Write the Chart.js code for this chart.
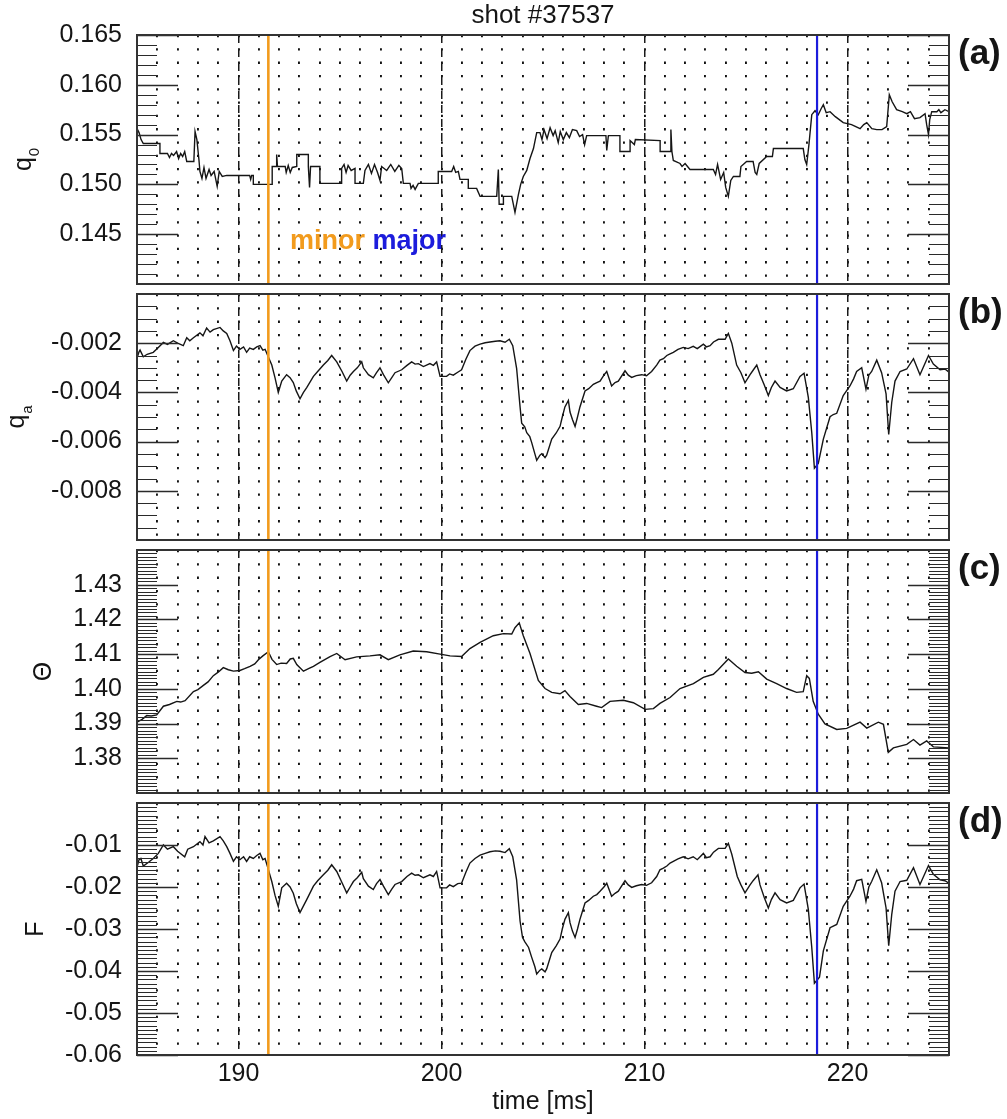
<!DOCTYPE html>
<html>
<head>
<meta charset="utf-8">
<title>shot #37537</title>
<script src="https://cdn.jsdelivr.net/npm/chart.js@4.4.1/dist/chart.umd.min.js"></script>
<style>
  body { margin: 0; background: #fff; }
  #page { position: relative; width: 1007px; height: 1119px; overflow: hidden; background: #fff; }
  #page canvas { position: absolute; left: 0; }
</style>
</head>
<body>
<div id="page">
  <canvas id="panelA" width="1007" height="314" style="top:0px"></canvas>
  <canvas id="panelB" width="1007" height="306" style="top:264px"></canvas>
  <canvas id="panelC" width="1007" height="303" style="top:520px"></canvas>
  <canvas id="panelD" width="1007" height="346" style="top:773px"></canvas>
</div>
<script>
// time axis
var timeRange = [185, 225];
var xTickLabels = [190, 200, 210, 220];
var minorTime = 191.47;   // orange marker
var majorTime = 218.5;    // blue marker
var noteTime = 192.54;    // where the "minor major" text starts
var noteLevel = 0.1435;

// (a) q0
var q0Range = [0.140, 0.165];
var q0Ticks = [0.145, 0.150, 0.155, 0.160, 0.165];
var q0Time = [
  185.00,185.10,185.20,185.31,186.13,186.13,186.50,186.60,186.70,186.80,
  186.95,187.05,187.15,187.25,187.35,187.45,187.80,187.86,187.95,188.05,
  188.10,188.20,188.30,188.40,188.55,188.65,188.80,188.95,189.05,189.20,
  189.42,190.55,190.60,190.65,190.73,190.73,191.66,191.66,191.85,191.88,
  191.92,192.30,192.35,192.45,192.55,192.65,192.87,192.87,193.44,193.44,
  193.50,193.55,194.01,194.01,195.08,195.08,195.20,195.30,195.40,195.55,
  195.74,195.74,196.15,196.23,196.40,196.55,196.70,196.85,196.97,197.05,
  197.30,197.50,197.70,197.90,198.04,198.12,198.45,198.50,198.60,198.70,
  198.86,199.84,199.84,200.50,200.60,200.70,200.83,200.91,201.32,201.32,
  201.73,201.90,202.72,202.80,202.84,203.05,203.05,203.46,203.62,203.79,
  203.90,204.03,204.20,204.36,204.53,204.69,204.85,204.95,205.05,205.20,
  205.35,205.50,205.60,205.75,205.85,206.00,206.15,206.30,206.45,206.66,
  206.80,206.95,207.05,207.15,208.10,208.14,208.22,208.79,208.79,209.29,
  209.29,209.50,209.55,210.77,210.77,211.26,211.30,211.35,211.42,211.75,
  211.85,212.00,212.24,213.39,213.50,213.60,213.75,213.90,214.00,214.13,
  214.25,214.38,214.70,214.75,215.03,215.35,215.45,215.53,215.65,216.02,
  216.30,216.35,217.82,217.90,217.99,218.10,218.24,218.40,218.56,218.70,
  218.81,218.95,219.14,219.40,219.79,220.20,220.62,220.80,220.95,221.20,
  221.44,221.70,221.93,222.06,222.20,222.42,222.70,222.92,223.10,223.30,
  223.57,223.82,223.90,223.99,224.05,224.15,224.40,224.50,224.60,224.80,
  225.00];
var q0Vals = [
  0.1556,0.1552,0.1545,0.1541,0.1541,0.1531,0.1531,0.1527,0.1531,0.1529,
  0.1533,0.1526,0.1531,0.1528,0.1533,0.1523,0.1523,0.1553,0.1545,0.1525,
  0.1513,0.1506,0.1517,0.1506,0.1515,0.1509,0.1513,0.1498,0.1513,0.1508,
  0.1509,0.1509,0.1505,0.1509,0.1509,0.1500,0.1500,0.1518,0.1518,0.1530,
  0.1518,0.1518,0.1512,0.1519,0.1512,0.1517,0.1518,0.1530,0.1530,0.1518,
  0.1497,0.1518,0.1518,0.1501,0.1501,0.1516,0.1520,0.1512,0.1519,0.1514,
  0.1516,0.1501,0.1501,0.1514,0.1520,0.1511,0.1520,0.1512,0.1504,0.1518,
  0.1514,0.1520,0.1513,0.1519,0.1516,0.1501,0.1501,0.1496,0.1499,0.1495,
  0.1501,0.1501,0.1513,0.1513,0.1518,0.1512,0.1513,0.1505,0.1505,0.1496,
  0.1496,0.1488,0.1488,0.1515,0.1480,0.1480,0.1488,0.1488,0.1472,0.1490,
  0.1500,0.1508,0.1514,0.1526,0.1536,0.1552,0.1552,0.1545,0.1555,0.1546,
  0.1557,0.1549,0.1554,0.1542,0.1553,0.1545,0.1552,0.1547,0.1555,0.1554,
  0.1548,0.1550,0.1540,0.1549,0.1549,0.1534,0.1549,0.1549,0.1533,0.1533,
  0.1544,0.1540,0.1545,0.1544,0.1533,0.1533,0.1555,0.1533,0.1524,0.1521,
  0.1518,0.1521,0.1515,0.1515,0.1510,0.1520,0.1505,0.1512,0.1497,0.1488,
  0.1504,0.1508,0.1508,0.1518,0.1523,0.1523,0.1512,0.1510,0.1521,0.1528,
  0.1528,0.1536,0.1536,0.1525,0.1520,0.1540,0.1570,0.1574,0.1570,0.1576,
  0.1580,0.1572,0.1573,0.1568,0.1562,0.1560,0.1556,0.1560,0.1562,0.1556,
  0.1555,0.1555,0.1558,0.1590,0.1583,0.1575,0.1573,0.1571,0.1573,0.1566,
  0.1567,0.1571,0.1560,0.1550,0.1565,0.1573,0.1573,0.1575,0.1572,0.1575,
  0.1573];

// (b) qa
var qaRange = [-0.010, 0];
var qaTicks = [-0.002, -0.004, -0.006, -0.008];
var qaTime = [
  184.99,185.10,185.15,185.31,185.50,185.80,186.00,186.30,186.50,186.79,
  187.00,187.28,187.45,187.60,187.78,188.10,188.25,188.43,188.60,188.76,
  189.09,189.25,189.42,189.58,189.75,189.90,190.07,190.25,190.40,190.55,
  190.73,190.90,191.06,191.20,191.31,191.47,191.64,191.80,191.96,192.13,
  192.37,192.54,192.70,192.85,193.03,193.20,193.36,193.69,193.90,194.18,
  194.40,194.59,194.84,195.10,195.33,195.50,195.66,195.85,196.07,196.15,
  196.40,196.64,196.80,196.97,197.14,197.38,197.55,197.71,198.04,198.30,
  198.53,198.70,198.86,199.11,199.43,199.60,199.76,199.93,200.25,200.40,
  200.58,200.80,200.99,201.20,201.40,201.65,201.90,202.15,202.39,202.65,
  202.88,203.13,203.34,203.51,203.70,203.87,203.95,204.10,204.20,204.35,
  204.44,204.60,204.69,204.85,204.94,205.10,205.18,205.43,205.65,205.84,
  205.95,206.08,206.25,206.33,206.45,206.58,206.70,206.82,207.07,207.25,
  207.48,207.65,207.81,208.00,208.14,208.38,208.55,208.71,209.04,209.20,
  209.37,209.60,209.86,210.10,210.35,210.60,210.76,210.93,211.10,211.26,
  211.42,211.65,211.91,212.15,212.40,212.60,212.90,213.05,213.23,213.40,
  213.64,213.97,214.13,214.30,214.54,214.75,214.95,215.20,215.35,215.53,
  215.69,215.90,216.10,216.25,216.43,216.68,217.00,217.33,217.66,217.86,
  218.07,218.24,218.37,218.56,218.81,219.14,219.30,219.47,219.79,220.12,
  220.30,220.45,220.70,220.91,221.05,221.19,221.44,221.68,221.90,222.03,
  222.18,222.34,222.59,222.92,223.25,223.57,223.99,224.23,224.56,224.80,
  225.00];
var qaVals = [
  -0.00263,-0.00235,-0.00228,-0.00255,-0.00245,-0.00237,-0.00222,-0.00197,-0.00205,-0.00190,
  -0.00200,-0.00210,-0.00178,-0.00190,-0.00178,-0.00158,-0.00170,-0.00138,-0.00155,-0.00145,
  -0.00136,-0.00150,-0.00160,-0.00190,-0.00230,-0.00212,-0.00225,-0.00215,-0.00237,-0.00220,
  -0.00225,-0.00215,-0.00210,-0.00228,-0.00225,-0.00256,-0.00289,-0.00341,-0.00400,-0.00354,
  -0.00328,-0.00340,-0.00360,-0.00395,-0.00426,-0.00400,-0.00381,-0.00335,-0.00315,-0.00289,
  -0.00270,-0.00250,-0.00276,-0.00315,-0.00354,-0.00330,-0.00315,-0.00300,-0.00276,-0.00300,
  -0.00328,-0.00341,-0.00320,-0.00300,-0.00328,-0.00361,-0.00340,-0.00320,-0.00308,-0.00290,
  -0.00276,-0.00285,-0.00283,-0.00295,-0.00283,-0.00290,-0.00276,-0.00335,-0.00335,-0.00325,
  -0.00330,-0.00318,-0.00308,-0.00265,-0.00230,-0.00212,-0.00204,-0.00198,-0.00195,-0.00192,
  -0.00190,-0.00196,-0.00184,-0.00210,-0.00302,-0.00459,-0.00525,-0.00540,-0.00564,-0.00580,
  -0.00603,-0.00650,-0.00676,-0.00655,-0.00649,-0.00665,-0.00655,-0.00590,-0.00565,-0.00538,
  -0.00500,-0.00459,-0.00433,-0.00480,-0.00510,-0.00538,-0.00500,-0.00459,-0.00394,-0.00385,
  -0.00367,-0.00360,-0.00354,-0.00330,-0.00315,-0.00374,-0.00360,-0.00354,-0.00312,-0.00330,
  -0.00339,-0.00332,-0.00328,-0.00332,-0.00315,-0.00289,-0.00269,-0.00263,-0.00250,-0.00243,
  -0.00237,-0.00225,-0.00217,-0.00222,-0.00213,-0.00222,-0.00204,-0.00215,-0.00210,-0.00195,
  -0.00184,-0.00184,-0.00160,-0.00200,-0.00289,-0.00320,-0.00361,-0.00328,-0.00310,-0.00289,
  -0.00328,-0.00370,-0.00413,-0.00380,-0.00354,-0.00380,-0.00394,-0.00385,-0.00335,-0.00322,
  -0.00420,-0.00564,-0.00708,-0.00689,-0.00590,-0.00499,-0.00490,-0.00485,-0.00413,-0.00374,
  -0.00345,-0.00315,-0.00300,-0.00387,-0.00330,-0.00315,-0.00269,-0.00320,-0.00406,-0.00571,
  -0.00440,-0.00354,-0.00315,-0.00305,-0.00263,-0.00328,-0.00250,-0.00285,-0.00308,-0.00305,
  -0.00318];

// (c) Theta
var thetaRange = [1.370, 1.440];
var thetaTicks = [1.38, 1.39, 1.40, 1.41, 1.42, 1.43];
var thetaTime = [
  185.00,185.25,185.48,185.70,185.97,186.30,186.60,186.96,187.15,187.37,
  187.78,188.00,188.27,188.50,188.76,189.00,189.25,189.50,189.75,190.07,
  190.30,190.57,190.80,190.98,191.20,191.47,191.65,191.88,192.10,192.37,
  192.55,192.70,192.87,193.20,193.45,193.69,194.01,194.51,194.84,195.25,
  195.82,196.48,196.97,197.38,197.95,198.61,199.27,199.93,200.42,200.99,
  201.40,201.90,202.55,203.05,203.46,203.62,203.83,204.03,204.36,204.77,
  205.10,205.43,205.84,206.08,206.33,206.74,207.15,207.64,207.89,208.30,
  208.96,209.45,210.03,210.44,210.76,211.26,211.75,212.41,212.90,213.39,
  213.64,214.13,214.54,214.95,215.28,215.61,216.02,216.51,217.00,217.49,
  217.82,217.99,218.12,218.31,218.56,218.89,219.47,219.96,220.62,220.95,
  221.52,221.77,222.01,222.26,222.92,223.25,223.57,223.90,224.23,225.00];
var thetaVals = [
  1.3904,1.3912,1.3923,1.3922,1.3925,1.3950,1.3955,1.3964,1.3962,1.3966,
  1.3992,1.3998,1.4010,1.4020,1.4038,1.4048,1.4061,1.4055,1.4051,1.4053,
  1.4058,1.4065,1.4072,1.4084,1.4095,1.4107,1.4085,1.4070,1.4074,1.4073,
  1.4086,1.4088,1.4070,1.4051,1.4058,1.4065,1.4076,1.4093,1.4102,1.4084,
  1.4092,1.4095,1.4098,1.4084,1.4098,1.4109,1.4107,1.4100,1.4095,1.4093,
  1.4116,1.4134,1.4153,1.4159,1.4158,1.4176,1.4190,1.4153,1.4102,1.4024,
  1.4001,1.3990,1.3986,1.3995,1.3978,1.3955,1.3958,1.3950,1.3946,1.3964,
  1.3967,1.3960,1.3941,1.3943,1.3958,1.3975,1.4001,1.4015,1.4033,1.4042,
  1.4056,1.4086,1.4065,1.4047,1.4045,1.4049,1.4028,1.4015,1.4001,1.3990,
  1.3992,1.4038,1.4030,1.3964,1.3927,1.3899,1.3883,1.3886,1.3904,1.3887,
  1.3904,1.3898,1.3817,1.3830,1.3840,1.3854,1.3838,1.3850,1.3833,1.3830];

// (d) F
var fRange = [-0.060, 0];
var fTicks = [-0.01, -0.02, -0.03, -0.04, -0.05, -0.06];
var fTime = [
  184.99,185.10,185.19,185.31,185.60,185.80,186.05,186.30,186.50,186.79,
  187.00,187.35,187.50,187.78,188.10,188.25,188.35,188.55,188.76,189.09,
  189.25,189.42,189.58,189.75,189.90,190.07,190.25,190.40,190.55,190.73,
  190.90,191.06,191.20,191.31,191.45,191.64,191.80,191.96,192.13,192.37,
  192.54,192.70,192.85,193.03,193.20,193.36,193.69,193.90,194.18,194.40,
  194.59,194.84,195.10,195.33,195.50,195.66,195.85,196.07,196.15,196.40,
  196.64,196.80,196.97,197.14,197.38,197.55,197.71,198.04,198.30,198.53,
  198.70,198.86,199.11,199.43,199.60,199.76,199.93,200.25,200.40,200.58,
  200.80,200.99,201.20,201.40,201.65,201.90,202.15,202.39,202.65,202.88,
  203.13,203.34,203.51,203.70,203.87,203.99,204.10,204.29,204.44,204.60,
  204.69,204.85,204.94,205.10,205.18,205.43,205.65,205.84,205.95,206.08,
  206.25,206.33,206.45,206.58,206.70,206.82,207.07,207.25,207.48,207.65,
  207.81,208.00,208.14,208.38,208.55,208.71,209.04,209.20,209.37,209.60,
  209.86,210.10,210.35,210.60,210.76,210.93,211.10,211.26,211.42,211.65,
  211.91,212.15,212.40,212.60,212.90,213.05,213.23,213.40,213.64,213.97,
  214.13,214.30,214.57,214.75,214.95,215.20,215.35,215.59,215.69,215.90,
  216.10,216.25,216.43,216.68,217.00,217.33,217.66,217.86,218.07,218.24,
  218.37,218.62,218.81,219.14,219.30,219.47,219.79,220.12,220.30,220.45,
  220.70,220.91,221.05,221.19,221.44,221.68,221.90,222.03,222.18,222.34,
  222.59,222.92,223.25,223.57,223.99,224.23,224.56,224.80,225.00];
var fVals = [
  -0.0155,-0.0135,-0.0132,-0.0150,-0.0140,-0.0132,-0.0120,-0.0100,-0.0110,-0.0104,
  -0.0115,-0.0128,-0.0110,-0.0104,-0.0092,-0.0100,-0.0080,-0.0095,-0.0090,-0.0080,
  -0.0090,-0.0104,-0.0120,-0.0139,-0.0128,-0.0135,-0.0128,-0.0139,-0.0128,-0.0132,
  -0.0125,-0.0120,-0.0135,-0.0132,-0.0155,-0.0187,-0.0220,-0.0246,-0.0202,-0.0191,
  -0.0200,-0.0215,-0.0240,-0.0261,-0.0245,-0.0230,-0.0198,-0.0185,-0.0171,-0.0160,
  -0.0147,-0.0163,-0.0190,-0.0214,-0.0200,-0.0187,-0.0178,-0.0165,-0.0180,-0.0198,
  -0.0206,-0.0192,-0.0182,-0.0198,-0.0218,-0.0205,-0.0194,-0.0187,-0.0175,-0.0167,
  -0.0172,-0.0171,-0.0178,-0.0171,-0.0175,-0.0163,-0.0202,-0.0202,-0.0195,-0.0199,
  -0.0192,-0.0191,-0.0165,-0.0143,-0.0132,-0.0124,-0.0120,-0.0116,-0.0114,-0.0115,
  -0.0118,-0.0109,-0.0128,-0.0183,-0.0281,-0.0320,-0.0330,-0.0344,-0.0367,-0.0390,
  -0.0407,-0.0398,-0.0395,-0.0402,-0.0395,-0.0356,-0.0340,-0.0324,-0.0300,-0.0277,
  -0.0261,-0.0285,-0.0305,-0.0320,-0.0300,-0.0277,-0.0238,-0.0232,-0.0222,-0.0218,
  -0.0210,-0.0200,-0.0191,-0.0222,-0.0215,-0.0210,-0.0185,-0.0195,-0.0201,-0.0197,
  -0.0194,-0.0196,-0.0190,-0.0175,-0.0159,-0.0155,-0.0150,-0.0143,-0.0139,-0.0133,
  -0.0128,-0.0133,-0.0128,-0.0135,-0.0120,-0.0130,-0.0128,-0.0117,-0.0108,-0.0108,
  -0.0096,-0.0122,-0.0175,-0.0195,-0.0214,-0.0195,-0.0185,-0.0171,-0.0195,-0.0225,
  -0.0250,-0.0230,-0.0214,-0.0230,-0.0238,-0.0232,-0.0202,-0.0193,-0.0253,-0.0344,
  -0.0429,-0.0415,-0.0352,-0.0297,-0.0293,-0.0289,-0.0246,-0.0222,-0.0205,-0.0185,
  -0.0182,-0.0234,-0.0200,-0.0187,-0.0159,-0.0190,-0.0250,-0.0340,-0.0265,-0.0210,
  -0.0187,-0.0184,-0.0154,-0.0194,-0.0149,-0.0170,-0.0183,-0.0185,-0.0191];

var fontFamily = "'Liberation Sans', Arial, Helvetica, sans-serif";
var minorColor = '#f29b1d';
var majorColor = '#1c1cdc';
var inkColor = '#151515';

Chart.defaults.font.family = fontFamily;
Chart.defaults.color = inkColor;

function toPoints(times, vals) {
  return times.map(function (t, i) { return { x: t, y: vals[i] }; });
}

// frame, inward ticks on both sides, rotated axis name, panel letter
function panelDecor(cfg) {
  return {
    id: 'panelDecor',
    afterDraw: function (chart) {
      var ctx = chart.ctx;
      var area = chart.chartArea;
      var xs = chart.scales.x;
      var ys = chart.scales.y;
      ctx.save();

      ctx.strokeStyle = '#2a2a2a';
      ctx.lineWidth = 1;
      ctx.beginPath();
      var n = Math.round((ys.max - ys.min) / cfg.minorStep);
      for (var i = 1; i < n; i++) {
        var py = Math.round(ys.getPixelForValue(ys.min + i * cfg.minorStep)) + 0.5;
        ctx.moveTo(area.left, py); ctx.lineTo(area.left + 20, py);
        ctx.moveTo(area.right, py); ctx.lineTo(area.right - 20, py);
      }
      ctx.stroke();
      ctx.lineWidth = 1.5;
      ctx.beginPath();
      cfg.ticks.forEach(function (v) {
        var py = Math.round(ys.getPixelForValue(v)) + 0.5;
        ctx.moveTo(area.left, py); ctx.lineTo(area.left + 41, py);
        ctx.moveTo(area.right, py); ctx.lineTo(area.right - 41, py);
      });
      ctx.stroke();

      ctx.lineWidth = 2;
      ctx.strokeStyle = '#333';
      ctx.strokeRect(area.left, area.top, area.right - area.left, area.bottom - area.top);

      ctx.fillStyle = inkColor;
      ctx.textAlign = 'left';
      ctx.textBaseline = 'middle';
      ctx.font = 'bold 35px ' + fontFamily;
      ctx.fillText(cfg.letter, area.right + 9, area.top + 19);

      if (cfg.heading) {
        ctx.textAlign = 'center';
        ctx.font = '26px ' + fontFamily;
        ctx.fillText(cfg.heading, (area.left + area.right) / 2, 16);
      }

      if (cfg.notes) {
        ctx.textAlign = 'left';
        ctx.textBaseline = 'alphabetic';
        ctx.font = 'bold 27px ' + fontFamily;
        var nx = xs.getPixelForValue(noteTime);
        var ny = ys.getPixelForValue(noteLevel);
        ctx.fillStyle = minorColor;
        ctx.fillText('minor', nx, ny);
        nx += ctx.measureText('minor ').width;
        ctx.fillStyle = majorColor;
        ctx.fillText('major', nx, ny);
      }

      // axis name, rotated, with optional subscript
      ctx.translate(cfg.nameX, (area.top + area.bottom) / 2);
      ctx.rotate(-Math.PI / 2);
      ctx.fillStyle = inkColor;
      ctx.textAlign = 'left';
      ctx.textBaseline = 'alphabetic';
      ctx.font = '25px ' + fontFamily;
      var w1 = ctx.measureText(cfg.name).width;
      var w2 = 0;
      if (cfg.sub) {
        ctx.font = '15px ' + fontFamily;
        w2 = ctx.measureText(cfg.sub).width + 1;
      }
      var x0 = -(w1 + w2) / 2;
      ctx.font = '25px ' + fontFamily;
      ctx.fillText(cfg.name, x0, 0);
      if (cfg.sub) {
        ctx.font = '15px ' + fontFamily;
        ctx.fillText(cfg.sub, x0 + w1 + 1, 8);
      }
      ctx.restore();
    }
  };
}

function makePanel(id, cfg) {
  var ctx = document.getElementById(id).getContext('2d');
  var lo = cfg.range[0], hi = cfg.range[1];
  return new Chart(ctx, {
    type: 'line',
    data: {
      datasets: [
        {
          data: toPoints(cfg.times, cfg.vals),
          borderColor: inkColor, borderWidth: 1.4,
          pointRadius: 0, tension: 0, order: 3
        },
        {
          data: [{ x: minorTime, y: lo }, { x: minorTime, y: hi }],
          borderColor: minorColor, borderWidth: 2.6, pointRadius: 0, order: 2
        },
        {
          data: [{ x: majorTime, y: lo }, { x: majorTime, y: hi }],
          borderColor: majorColor, borderWidth: 2.2, pointRadius: 0, order: 1
        }
      ]
    },
    options: {
      responsive: false,
      animation: false,
      events: [],
      layout: { padding: { top: cfg.padTop, bottom: cfg.padBottom, left: 0, right: 58 } },
      plugins: { legend: { display: false }, tooltip: { enabled: false } },
      scales: {
        // 1 ms dotted grid
        x: {
          type: 'linear', min: timeRange[0], max: timeRange[1],
          ticks: { stepSize: 1, display: false },
          grid: { color: '#111', lineWidth: 1.9, drawTicks: false },
          border: { display: false, dash: [2.3, 11] },
          afterFit: function (s) { s.height = 0; }
        },
        // 10 ms dashed grid, carries the time labels
        x10: {
          type: 'linear', position: 'bottom', min: timeRange[0], max: timeRange[1],
          afterBuildTicks: function (s) {
            s.ticks = xTickLabels.map(function (v) { return { value: v }; });
          },
          ticks: { display: !!cfg.showTime, maxRotation: 0, autoSkip: false, padding: 4, font: { size: 25 }, color: inkColor },
          grid: { color: '#1a1a1a', lineWidth: 1.5, drawTicks: false },
          border: { display: false, dash: [8, 6] },
          title: { display: !!cfg.showTime, text: 'time [ms]', font: { size: 25 }, color: inkColor, padding: { top: 0, bottom: 2 } },
          afterFit: function (s) { s.height = cfg.showTime ? 64 : 0; }
        },
        y: {
          min: lo, max: hi,
          afterBuildTicks: function (s) {
            s.ticks = cfg.ticks.map(function (v) { return { value: v }; });
          },
          ticks: {
            padding: 15, font: { size: 25 }, color: inkColor,
            callback: function (v) { return Number(v).toFixed(cfg.digits); }
          },
          grid: { display: false, drawTicks: false },
          border: { display: false },
          afterFit: function (s) { s.width = 137; }
        }
      }
    },
    plugins: [panelDecor(cfg)]
  });
}

makePanel('panelA', {
  times: q0Time, vals: q0Vals, range: q0Range, ticks: q0Ticks, digits: 3, minorStep: 0.001,
  name: 'q', sub: '0', nameX: 31, letter: '(a)', padTop: 35, padBottom: 25,
  heading: 'shot #37537', notes: true
});
makePanel('panelB', {
  times: qaTime, vals: qaVals, range: qaRange, ticks: qaTicks, digits: 3, minorStep: 0.0005,
  name: 'q', sub: 'a', nameX: 24, letter: '(b)', padTop: 25, padBottom: 25
});
makePanel('panelC', {
  times: thetaTime, vals: thetaVals, range: thetaRange, ticks: thetaTicks, digits: 2, minorStep: 0.001,
  name: '\u0398', nameX: 51, letter: '(c)', padTop: 25, padBottom: 25
});
makePanel('panelD', {
  times: fTime, vals: fVals, range: fRange, ticks: fTicks, digits: 2, minorStep: 0.001,
  name: 'F', nameX: 43, letter: '(d)', padTop: 25, padBottom: 0, showTime: true
});
</script>
</body>
</html>
